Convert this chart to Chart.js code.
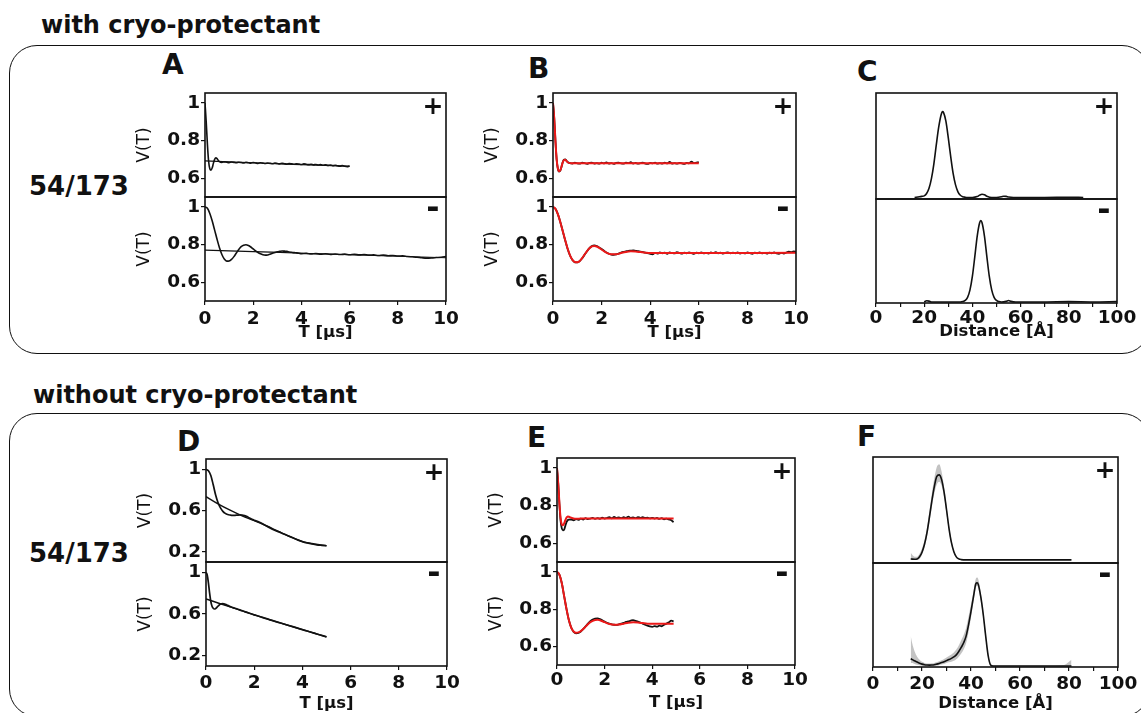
<!DOCTYPE html>
<html><head><meta charset="utf-8">
<script src="https://cdn.jsdelivr.net/npm/chart.js@4.4.1/dist/chart.umd.min.js"></script>
<style>
html,body{margin:0;padding:0;background:#fff;width:1141px;height:713px;overflow:hidden;font-family:'DejaVu Sans',sans-serif;}
.abs{position:absolute;white-space:nowrap;color:#111;font-weight:bold;}
.box{position:absolute;border:1.6px solid #111;border-radius:28px;box-sizing:border-box;}
canvas{position:absolute;}
</style></head><body>
<div class="box" style="left:9px;top:45px;width:1141px;height:308.5px"></div>
<div class="box" style="left:9px;top:412.5px;width:1141px;height:304px"></div>
<div class="abs" style="left:41px;top:13px;font-size:24px;line-height:24px">with cryo-protectant</div>
<div class="abs" style="left:33px;top:383px;font-size:24px;line-height:24px">without cryo-protectant</div>
<div class="abs" style="left:29px;top:173px;font-size:26px;line-height:26px">54/173</div>
<div class="abs" style="left:29px;top:540px;font-size:26px;line-height:26px">54/173</div>
<div class="abs" style="left:162px;top:51px;font-size:28px;line-height:28px">A</div>
<div class="abs" style="left:528px;top:55px;font-size:28px;line-height:28px">B</div>
<div class="abs" style="left:857px;top:58px;font-size:28px;line-height:28px">C</div>
<div class="abs" style="left:177px;top:428px;font-size:28px;line-height:28px">D</div>
<div class="abs" style="left:527px;top:424px;font-size:28px;line-height:28px">E</div>
<div class="abs" style="left:857px;top:423px;font-size:28px;line-height:28px">F</div>
<script>
// ---------------- DATA ----------------
const T_EARLY = [0,0.05,0.1,0.15,0.2,0.25,0.3,0.35,0.4,0.45,0.5,0.55,0.6];
const T_07_60 = [0.7,0.8,0.9,1.0,1.1,1.2,1.3,1.4,1.5,1.6,1.7,1.8,1.9,2.0,2.1,2.2,2.3,2.4,2.5,2.6,2.7,2.8,2.9,3.0,3.1,3.2,3.3,3.4,3.5,3.6,3.7,3.8,3.9,4.0,4.1,4.2,4.3,4.4,4.5,4.6,4.7,4.8,4.9,5.0,5.1,5.2,5.3,5.4,5.5,5.6,5.7,5.8,5.9,6.0];
const T_00_40 = [0,0.1,0.2,0.3,0.4,0.5,0.6,0.7,0.8,0.9,1.0,1.1,1.2,1.3,1.4,1.5,1.6,1.7,1.8,1.9,2.0,2.1,2.2,2.3,2.4,2.5,2.6,2.7,2.8,2.9,3.0,3.1,3.2,3.3,3.4,3.5,3.6,3.7,3.8,3.9,4.0];
const T_41_49 = [4.1,4.2,4.3,4.4,4.5,4.6,4.7,4.8,4.9];
const T_50_100 = [5.0,5.1,5.2,5.3,5.4,5.5,5.6,5.7,5.8,5.9,6.0,6.1,6.2,6.3,6.4,6.5,6.6,6.7,6.8,6.9,7.0,7.1,7.2,7.3,7.4,7.5,7.6,7.7,7.8,7.9,8.0,8.1,8.2,8.3,8.4,8.5,8.6,8.7,8.8,8.9,9.0,9.1,9.2,9.3,9.4,9.5,9.6,9.7,9.8,9.9,10.0];
const T_42_100_STEP2 = [4.2,4.4,4.6,4.8,5.0,5.2,5.4,5.6,5.8,6.0,6.2,6.4,6.6,6.8,7.0,7.2,7.4,7.6,7.8,8.0,8.2,8.4,8.6,8.8,9.0,9.2,9.4,9.6,9.8,10.0];

// Panel A (+): raw trace and background
const A_TOP_T = T_EARLY.concat(T_07_60);
const A_TOP_V = [1.000,0.900,0.780,0.690,0.650,0.643,0.655,0.680,0.700,0.708,0.704,0.695,0.688,
 0.684,0.687,0.685,
 0.683,0.686,0.684,0.682,0.685,0.683,0.681,0.684,0.682,0.680,
 0.683,0.681,0.679,0.682,0.680,0.678,0.681,0.679,0.677,0.680,
 0.678,0.676,0.679,0.677,0.675,0.678,0.676,0.674,0.677,0.675,
 0.673,0.676,0.674,0.672,0.674,0.671,0.673,0.670,0.672,0.669,
 0.671,0.668,0.670,0.667,0.669,0.666,0.664,0.667,0.663,0.661,
 0.665];
const A_TOP_BG_T = [0,1,2,3,4,5,6];
const A_TOP_BG_V = [0.692,0.687,0.682,0.677,0.672,0.668,0.664];
// Panel A (-)
const A_BOT_T = T_00_40.concat(T_42_100_STEP2);
const A_BOT_V = [1.000,0.993,0.965,0.925,0.877,0.828,0.783,0.747,0.723,0.712,
 0.713,0.721,0.736,0.755,0.774,0.789,0.797,0.799,0.795,0.787,
 0.777,0.767,0.758,0.751,0.746,0.744,0.745,0.749,0.754,0.758,
 0.762,0.764,0.766,0.765,0.764,0.761,0.759,0.757,0.756,0.754,
 0.752,
 0.753,0.750,0.752,0.749,0.751,0.748,0.750,0.747,0.749,0.746,
 0.748,0.745,0.747,0.744,0.745,0.742,0.744,0.741,0.742,0.739,
 0.740,0.737,0.735,0.733,0.730,0.728,0.729,0.731,0.733,0.736];
const A_BOT_BG_T = [0,2,4,6,8,10];
const A_BOT_BG_V = [0.770,0.763,0.754,0.746,0.738,0.730];

// Panel B (+): corrected data and fit
const B_TOP_T = T_EARLY.concat(T_07_60);
const B_TOP_V = [1.0,0.92,0.80,0.70,0.650,0.635,0.640,0.660,0.685,0.698,0.700,0.694,0.686,
 0.680,0.678,0.683,
 0.679,0.677,0.682,0.680,0.676,0.681,0.683,0.678,0.680,0.677,
 0.682,0.679,0.684,0.678,0.680,0.676,0.681,0.683,0.679,0.677,
 0.682,0.680,0.685,0.678,0.681,0.677,0.680,0.683,0.678,0.676,
 0.681,0.679,0.683,0.677,0.680,0.678,0.682,0.679,0.686,0.678,
 0.680,0.677,0.681,0.679,0.676,0.681,0.679,0.688,0.680,0.683,
 0.686];
const B_TOP_FIT_T = [0,0.05,0.1,0.15,0.2,0.25,0.3,0.35,0.4,0.45,0.5,0.55,0.6,0.7,0.8,1.0,6.0];
const B_TOP_FIT_V = [1.0,0.92,0.80,0.70,0.652,0.637,0.642,0.662,0.684,0.696,0.698,0.692,0.685,0.680,0.679,0.680,0.680];
// Panel B (-)
const B_BOT_T = T_00_40.concat(T_41_49, T_50_100);
const B_BOT_V = [1.0,0.99,0.962,0.92,0.872,0.823,0.778,0.742,0.718,0.706,
 0.705,0.712,0.727,0.746,0.765,0.781,0.792,0.795,0.792,0.785,
 0.776,0.767,0.758,0.751,0.747,0.746,0.748,0.752,0.757,0.761,
 0.764,0.767,0.768,0.769,0.767,0.765,0.762,0.760,0.757,0.755,
 0.750,0.748,0.756,0.752,0.759,0.754,0.757,0.751,0.758,0.755,
 0.753,0.760,0.756,0.752,0.757,0.754,0.759,0.755,0.751,0.757,
 0.754,0.759,0.753,0.756,0.752,0.758,0.755,0.760,0.754,0.757,
 0.752,0.756,0.759,0.753,0.757,0.754,0.758,0.752,0.756,0.753,
 0.758,0.755,0.751,0.757,0.754,0.759,0.753,0.756,0.752,0.757,
 0.754,0.758,0.753,0.751,0.756,0.752,0.758,0.762,0.760,0.764,
 0.761];
const B_BOT_FIT_T = [0,0.1,0.2,0.3,0.4,0.5,0.6,0.7,0.8,0.9,1.0,1.1,1.2,1.3,1.4,1.5,1.6,1.7,1.8,1.9,2.0,2.2,2.4,2.6,2.8,3.0,3.2,3.4,3.6,3.8,4.0,5.0,10.0];
const B_BOT_FIT_V = [1.0,0.99,0.962,0.92,0.872,0.824,0.779,0.743,0.719,0.707,0.706,0.713,0.728,0.747,0.765,0.780,0.790,0.793,0.790,0.783,0.774,0.757,0.748,0.748,0.755,0.761,0.764,0.763,0.760,0.757,0.755,0.755,0.756];

// Panel C: distance distributions (Å)
const C_TOP_R = [16,18,19,20,21,22,23,24,25,26,27,27.6,28,29,30,31,32,33,34,35,36,37,38,40,42,43,44,45,46,48,50,52,53,54,55,57,60,70,80,86];
const C_TOP_P = [0,0.006,0.01,0.015,0.038,0.088,0.18,0.32,0.50,0.67,0.79,0.822,0.815,0.73,0.57,0.39,0.23,0.12,0.054,0.021,0.007,0.002,0,0,0.008,0.022,0.03,0.025,0.012,0,0,0.006,0.012,0.01,0.004,0,0,0,0.002,0];
const C_BOT_R = [20,21,22,23,25,30,35,36,37,38,39,40,41,42,43,43.5,44,45,46,47,48,49,50,51,52,54,55,56,58,60,70,80,90,100];
const C_BOT_P = [0,0.012,0.008,0,0,0,0,0.004,0.015,0.045,0.117,0.25,0.44,0.64,0.77,0.79,0.77,0.64,0.44,0.25,0.117,0.045,0.015,0.004,0,0.006,0.014,0.006,0,0,0,0.003,0,0.004];

// Panel D (+): raw trace and background
const D_TOP_T = [0,0.1,0.2,0.3,0.4,0.5,0.6,0.7,0.8,0.9,1.0,1.1,1.2,1.3,1.4,1.5,1.6,1.7,1.8,1.9,2.0,2.2,2.4,2.6,2.8,3.0,3.2,3.4,3.6,3.8,4.0,4.2,4.4,4.6,4.8,5.0];
const D_TOP_V = [1.0,0.985,0.94,0.85,0.75,0.675,0.625,0.592,0.572,0.561,0.556,0.553,0.553,0.555,0.557,0.556,0.55,0.541,0.528,0.516,0.505,0.488,0.465,0.438,0.413,0.395,0.375,0.355,0.335,0.315,0.298,0.285,0.275,0.267,0.262,0.258];
const D_TOP_BG_T = [0,0.5,1,1.5,2,2.5,3,3.5,4,4.5,5];
const D_TOP_BG_V = [0.735,0.665,0.603,0.548,0.502,0.452,0.398,0.345,0.298,0.275,0.258];
// Panel D (-)
const D_BOT_T = [0,0.05,0.1,0.15,0.2,0.25,0.3,0.35,0.4,0.5,0.6,0.7,0.8,0.9,1.0,1.2,1.4,1.6,1.8,2.0,2.2,2.4,2.6,2.8,3.0,3.2,3.4,3.6,3.8,4.0,4.2,4.4,4.6,4.8,5.0];
const D_BOT_V = [1.0,0.975,0.90,0.80,0.72,0.675,0.655,0.648,0.652,0.675,0.695,0.700,0.693,0.683,0.672,0.655,0.640,0.623,0.607,0.592,0.578,0.563,0.548,0.534,0.520,0.506,0.492,0.478,0.464,0.450,0.436,0.422,0.408,0.394,0.380];
const D_BOT_BG_T = [0,0.5,1,1.5,2,2.5,3,3.5,4,4.5,5];
const D_BOT_BG_V = [0.745,0.706,0.668,0.630,0.592,0.556,0.520,0.485,0.450,0.415,0.380];

// Panel E (+)
const E_TOP_T = [0,0.05,0.1,0.15,0.2,0.25,0.3,0.35,0.4,0.45,0.5,0.6,0.7,0.8,0.9,1.0,1.1,1.2,1.3,1.4,1.5,1.6,1.7,1.8,1.9,2.0,2.1,2.2,2.3,2.4,2.5,2.6,2.7,2.8,2.9,3.0,3.1,3.2,3.3,3.4,3.5,3.6,3.7,3.8,3.9,4.0,4.1,4.2,4.3,4.4,4.5,4.6,4.7,4.8,4.9];
const E_TOP_V = [1.0,0.92,0.81,0.72,0.68,0.668,0.672,0.692,0.712,0.722,0.725,
 0.726,0.722,0.728,0.724,
 0.731,0.726,0.733,0.728,0.731,0.735,0.729,0.733,0.730,0.736,
 0.731,0.734,0.738,0.732,0.740,0.734,0.737,0.733,0.738,0.735,
 0.741,0.734,0.737,0.733,0.739,0.735,0.738,0.734,0.736,0.732,
 0.735,0.731,0.734,0.729,0.733,0.727,0.731,0.726,0.722,0.712];
const E_TOP_FIT_T = [0,0.05,0.1,0.15,0.2,0.25,0.3,0.35,0.4,0.45,0.5,0.6,0.7,0.8,1.0,4.9];
const E_TOP_FIT_V = [1.0,0.92,0.815,0.735,0.70,0.695,0.705,0.722,0.736,0.742,0.741,0.735,0.731,0.730,0.731,0.731];
// Panel E (-)
const E_BOT_T = T_00_40.concat(T_41_49);
const E_BOT_V = [1.0,0.985,0.94,0.87,0.80,0.74,0.70,0.678,0.670,0.672,
 0.680,0.692,0.707,0.722,0.735,0.744,0.749,0.750,0.747,0.740,
 0.733,0.726,0.722,0.718,0.716,0.715,0.718,0.722,0.726,0.731,
 0.734,0.738,0.741,0.737,0.733,0.728,0.722,0.716,0.711,0.707,
 0.705,0.709,0.706,0.711,0.708,0.716,0.722,0.729,0.738,0.734];
const E_BOT_FIT_T = [0,0.1,0.2,0.3,0.4,0.5,0.6,0.7,0.8,0.9,1.0,1.2,1.4,1.6,1.7,1.8,2.0,2.2,2.4,2.6,2.8,3.0,3.2,3.4,3.6,3.8,4.0,4.9];
const E_BOT_FIT_V = [1.0,0.985,0.94,0.87,0.80,0.74,0.70,0.680,0.673,0.675,0.682,0.706,0.730,0.742,0.743,0.740,0.730,0.720,0.716,0.717,0.722,0.727,0.729,0.728,0.725,0.722,0.721,0.721];

// Panel F: distance distributions with uncertainty band
const F_TOP_R = [15.4,16,17,18,19,20,21,22,23,24,25,26,27,28,29,30,31,32,33,34,35,36,38,40,50,60,70,81];
const F_TOP_P = [0.01,0.008,0.007,0.01,0.03,0.075,0.15,0.26,0.41,0.57,0.71,0.81,0.826,0.78,0.66,0.49,0.31,0.17,0.08,0.03,0.01,0.003,0,0,0,0,0,0];
const F_TOP_HI = [0.07,0.05,0.03,0.03,0.06,0.11,0.19,0.31,0.47,0.64,0.79,0.9,0.93,0.86,0.71,0.53,0.34,0.19,0.09,0.035,0.015,0.006,0.004,0.004,0.004,0.004,0.004,0.008];
const F_TOP_LO = [0,0,0,0,0.01,0.05,0.12,0.22,0.36,0.51,0.64,0.73,0.76,0.72,0.61,0.45,0.28,0.15,0.07,0.025,0.006,0,0,0,0,0,0,0];
const F_BOT_R = [15.4,16,17,18,19,20,21,22,23,24,25,26,27,28,29,30,31,32,33,34,35,36,37,38,39,40,41,42,42.5,43,44,45,46,47,48,49,50,60,70,78,80,81];
const F_BOT_P = [0.07,0.062,0.05,0.038,0.027,0.018,0.012,0.009,0.008,0.009,0.012,0.018,0.025,0.033,0.042,0.052,0.062,0.074,0.088,0.108,0.14,0.18,0.225,0.29,0.40,0.53,0.67,0.80,0.808,0.79,0.67,0.50,0.29,0.10,0.01,0,0,0,0,0,0,0];
const F_BOT_HI = [0.29,0.22,0.14,0.09,0.06,0.04,0.03,0.025,0.024,0.026,0.03,0.036,0.045,0.056,0.068,0.082,0.096,0.112,0.132,0.16,0.2,0.25,0.30,0.37,0.48,0.6,0.72,0.85,0.86,0.84,0.71,0.53,0.31,0.12,0.02,0.005,0.005,0.005,0.005,0.01,0.04,0.06];
const F_BOT_LO = [0.03,0.03,0.02,0.012,0.006,0.002,0,0,0,0,0,0.003,0.008,0.014,0.02,0.028,0.035,0.042,0.05,0.065,0.09,0.12,0.16,0.22,0.33,0.47,0.62,0.76,0.78,0.75,0.63,0.46,0.26,0.08,0,0,0,0,0,0,0,0];

// tick labels
const T_TICKS = [0,2,4,6,8,10];
const R_TICKS = [0,10,20,30,40,50,60,70,80,90,100];
const V_TICKS_FINE = [0.6,0.8,1];
const V_TICKS_WIDE = [0.2,0.6,1];

// ---------------- DRAWING ----------------
const FONT = 'DejaVu Sans';
Chart.defaults.font.family = FONT;
Chart.defaults.color = '#111';
const BLACK = '#111', RED = 'rgb(235,25,25)';
const TICK_SIZE = 18.5;

function pts(t, v){ return t.map((x,i)=>({x:x, y:v[i]})); }
function line(t, v, color, w){ return {data:pts(t,v), borderColor:color, borderWidth:w, pointRadius:0, fill:false, cubicInterpolationMode:'monotone'}; }
function band(t, lo, hi){ return [
  {data:pts(t,hi), borderColor:'rgba(0,0,0,0)', borderWidth:1, pointRadius:0, backgroundColor:'rgba(155,155,155,0.6)', fill:'+1', cubicInterpolationMode:'monotone'},
  {data:pts(t,lo), borderColor:'rgba(0,0,0,0)', borderWidth:1, pointRadius:0, fill:false, cubicInterpolationMode:'monotone'} ]; }

const framePlugin = {id:'frame', afterDraw(chart){
  const {ctx, chartArea:a} = chart; ctx.save(); ctx.strokeStyle = BLACK; ctx.lineWidth = 1.6;
  ctx.strokeRect(a.left, a.top, a.right-a.left, a.bottom-a.top); ctx.restore(); }};

function fmt(v){ return v===1 ? '1' : String(v); }

const PAD_L = 72, PAD_R = 26, PAD_T = 14, AXIS_H = 48;

function half(g, part, datasets, o){
  const isBot = part==='bot';
  const top = isBot ? g.M : g.T, bot = isBot ? g.B : g.M;
  const w = (g.R - g.L) + PAD_L + PAD_R;
  const h = (bot - top) + PAD_T + (isBot ? AXIS_H : PAD_T);
  const c = document.createElement('canvas');
  c.width = Math.round(w); c.height = Math.round(h);
  c.style.left = (g.L - PAD_L) + 'px'; c.style.top = (top - PAD_T) + 'px';
  c.style.width = Math.round(w) + 'px'; c.style.height = Math.round(h) + 'px';
  document.body.appendChild(c);
  const yr = isBot ? o.yBot : o.yTop;
  new Chart(c, {type:'line', data:{datasets:datasets}, plugins:[framePlugin], options:{
    responsive:false, animation:false, events:[],
    layout:{padding:{left:0, right:PAD_R, top:PAD_T, bottom:isBot?0:PAD_T}},
    plugins:{legend:{display:false}, tooltip:{enabled:false}},
    scales:{
      x:{type:'linear', min:o.xMin, max:o.xMax, display:isBot,
        afterFit:s=>{s.height = isBot ? AXIS_H : 0;},
        afterBuildTicks:s=>{s.ticks = o.xTicks.map(v=>({value:v}));},
        ticks:{autoSkip:false, maxRotation:0, padding:o.xTickPad, color:BLACK,
          font:{size:TICK_SIZE, weight:'bold'}, callback:v=>o.xLabel(v)},
        grid:{drawOnChartArea:false, drawTicks:true, tickLength:4, color:BLACK, lineWidth:1.2},
        border:{display:false},
        title:{display:true, text:o.xTitle, color:BLACK, font:{size:16.5, weight:'bold'}, padding:{top:0, bottom:o.xTitlePad}}},
      y:{type:'linear', min:yr[0], max:yr[1],
        afterFit:s=>{s.width = PAD_L;},
        afterBuildTicks:s=>{s.ticks = (o.yTicks||[]).map(v=>({value:v}));},
        ticks:{display:!!o.yTicks, padding:1, color:BLACK, font:{size:TICK_SIZE, weight:'bold'}, callback:v=>fmt(v)},
        grid:{display:!!o.yTicks, drawOnChartArea:false, drawTicks:true, tickLength:4, color:BLACK, lineWidth:1.2},
        border:{display:false},
        title:{display:!!o.yTicks, text:'V(T)', color:BLACK, font:{size:17, weight:'normal'}, padding:{top:1, bottom:0}}}
    }}});
  // +/- markers
  const m = document.createElement('div');
  m.className = 'abs';
  m.textContent = isBot ? '-' : '+';
  m.style.fontSize = isBot ? '32px' : '25px';
  m.style.lineHeight = '1';
  m.style.left = (g.R - 13) + 'px';
  m.style.top = (top + (isBot ? 10 : 12)) + 'px';
  m.style.transform = 'translate(-50%,-50%)';
  document.body.appendChild(m);
}

const tLabel = v => String(v);
const rLabel = v => (v % 20 === 0 ? String(v) : '');

const GEOM = {
  A:{L:205, R:446, T:93, M:196.5, B:300},
  B:{L:553, R:796, T:93, M:196.5, B:300.5},
  C:{L:876, R:1117, T:93, M:199, B:302.5},
  D:{L:206, R:447, T:459, M:561.5, B:665},
  E:{L:557, R:795, T:458, M:561.5, B:664},
  F:{L:873, R:1118, T:457, M:562.5, B:666}
};

const optT = (yTicks, yr, pad, tpad) => ({xMin:0, xMax:10, xTicks:T_TICKS, xLabel:tLabel, xTitle:'T [µs]',
  xTickPad:pad, xTitlePad:tpad, yTicks:yTicks, yTop:yr, yBot:yr});
const optR = (yTop, yBot, pad, tpad) => ({xMin:0, xMax:100, xTicks:R_TICKS, xLabel:rLabel, xTitle:'Distance [Å]',
  xTickPad:pad, xTitlePad:tpad, yTicks:null, yTop:yTop, yBot:yBot});

const oA = optT(V_TICKS_FINE, [0.5,1.053], 3, 6);
half(GEOM.A, 'top', [line(A_TOP_T,A_TOP_V,BLACK,1.6), line(A_TOP_BG_T,A_TOP_BG_V,BLACK,1.2)], oA);
half(GEOM.A, 'bot', [line(A_BOT_T,A_BOT_V,BLACK,1.6), line(A_BOT_BG_T,A_BOT_BG_V,BLACK,1.2)], oA);

const oB = optT(V_TICKS_FINE, [0.5,1.053], 3, 6);
half(GEOM.B, 'top', [line(B_TOP_FIT_T,B_TOP_FIT_V,RED,2), line(B_TOP_T,B_TOP_V,BLACK,1.8)], oB);
half(GEOM.B, 'bot', [line(B_BOT_FIT_T,B_BOT_FIT_V,RED,2), line(B_BOT_T,B_BOT_V,BLACK,1.8)], oB);

const oC = optR([-0.015,1.0], [-0.01,1.0], 0, 9);
half(GEOM.C, 'top', [line(C_TOP_R,C_TOP_P,BLACK,1.6)], oC);
half(GEOM.C, 'bot', [line(C_BOT_R,C_BOT_P,BLACK,1.6)], oC);

const oD = optT(V_TICKS_WIDE, [0.1,1.1], 2, 0);
half(GEOM.D, 'top', [line(D_TOP_T,D_TOP_V,BLACK,1.7), line(D_TOP_BG_T,D_TOP_BG_V,BLACK,1.4)], oD);
half(GEOM.D, 'bot', [line(D_BOT_T,D_BOT_V,BLACK,1.7), line(D_BOT_BG_T,D_BOT_BG_V,BLACK,1.4)], oD);

const oE = optT(V_TICKS_FINE, [0.5,1.053], 0, 0);
half(GEOM.E, 'top', [line(E_TOP_FIT_T,E_TOP_FIT_V,RED,2), line(E_TOP_T,E_TOP_V,BLACK,1.8)], oE);
half(GEOM.E, 'bot', [line(E_BOT_FIT_T,E_BOT_FIT_V,RED,2), line(E_BOT_T,E_BOT_V,BLACK,1.8)], oE);

const oF = optR([-0.03,1.0], [-0.01,1.0], 2, 1);
half(GEOM.F, 'top', [line(F_TOP_R,F_TOP_P,BLACK,1.6)].concat(band(F_TOP_R,F_TOP_LO,F_TOP_HI)), oF);
half(GEOM.F, 'bot', [line(F_BOT_R,F_BOT_P,BLACK,1.6)].concat(band(F_BOT_R,F_BOT_LO,F_BOT_HI)), oF);
</script>
</body></html>
